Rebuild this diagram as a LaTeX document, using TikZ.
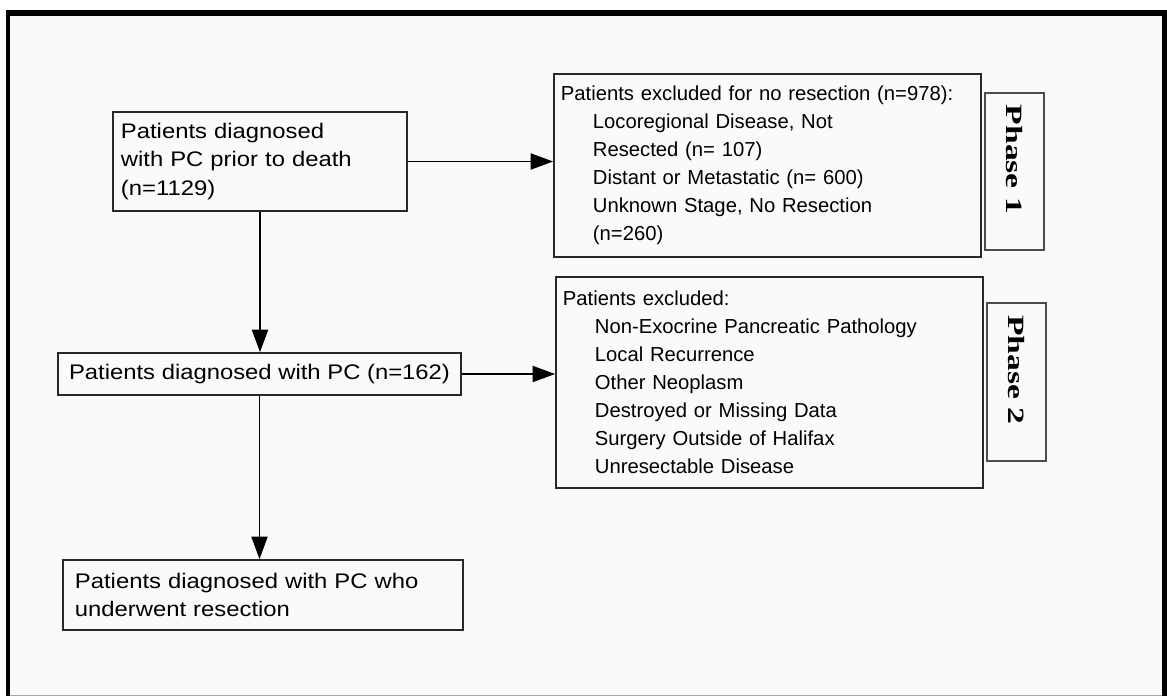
\documentclass[tikz,border=0pt]{standalone}
\usepackage{fontspec}
\setmainfont{Liberation Sans}
\newfontfamily\leftfont[FakeStretch=1.13]{Liberation Sans}
\newfontfamily\phasefont[FakeStretch=1.44]{Liberation Serif}
\usetikzlibrary{arrows.meta, positioning}
\definecolor{panelgray}{RGB}{250,250,250}
\definecolor{edgegray}{RGB}{40,40,40}
\newcommand{\itemind}{\hspace*{0.8cm}}

\begin{document}
\begin{tikzpicture}[x=0.025cm, y=-0.025cm,
  flowbox/.style={draw=edgegray, line width=1.2pt, align=left, inner ysep=0pt},
  leftbox/.style={flowbox, inner xsep=0.2cm, font=\leftfont\fontsize{15}{20.3}\selectfont},
  exclbox/.style={flowbox, inner xsep=0.175cm, font=\fontsize{14.4}{19.9}\selectfont},
  phasebox/.style={draw=black!70, line width=0.9pt, rotate=-90, inner sep=0pt,
    font=\phasefont\bfseries\fontsize{16.6}{20}\selectfont},
  flow/.style={-{Triangle[length=16pt, width=11.5pt]}, line width=1pt}]

\useasboundingbox (0,0) rectangle (1167,696);

% Frame
\fill[white] (0,0) rectangle (1167,696);
\fill[black] (6,10) rectangle (1167,696);
\fill[panelgray] (10,16) rectangle (1162,695);
\fill[gray!70] (10,695) rectangle (1162,696);

% Main column
\node[leftbox, minimum width=7.35cm, minimum height=2.475cm, text width=6.95cm] (prior) at (260,161.5)
  {Patients diagnosed\\with PC prior to death\\(n=1129)};
\node[leftbox, align=center, minimum width=10.075cm, minimum height=1.05cm] (withpc) at (259.5,374)
  {Patients diagnosed with PC (n=162)};
\node[leftbox, inner xsep=0.3cm, minimum width=10cm, minimum height=1.75cm, text width=9.4cm] (resected) at (263,595)
  {Patients diagnosed with PC who\\underwent resection};

% Exclusions
\node[exclbox, minimum width=10.675cm, minimum height=4.575cm, text width=10.325cm] (noresect) at (767.5,165.5)
  {Patients excluded for no resection (n=978):\\
   \itemind Locoregional Disease, Not\\
   \itemind Resected (n= 107)\\
   \itemind Distant or Metastatic (n= 600)\\
   \itemind Unknown Stage, No Resection\\
   \itemind (n=260)};
\node[exclbox, minimum width=10.675cm, minimum height=5.275cm, text width=10.325cm] (excluded) at (769.5,382.5)
  {Patients excluded:\\
   \itemind Non-Exocrine Pancreatic Pathology\\
   \itemind Local Recurrence\\
   \itemind Other Neoplasm\\
   \itemind Destroyed or Missing Data\\
   \itemind Surgery Outside of Halifax\\
   \itemind Unresectable Disease};

% Phase labels
\node[phasebox, minimum width=3.925cm, minimum height=1.475cm] (phaseone) at (1014.5,171.5)
  {Phase 1\hspace*{0.6cm}};
\node[phasebox, minimum width=3.95cm, minimum height=1.475cm] (phasetwo) at (1016.5,382)
  {Phase 2\hspace*{0.6cm}};

% Arrows
\draw[flow] (prior.east) -- (prior.east -| noresect.west);
\draw[flow] (prior.south) -- (prior.south |- withpc.north);
\draw[flow] (withpc.east) -- (withpc.east -| excluded.west);
\draw[flow] (withpc.south) -- (withpc.south |- resected.north);

\end{tikzpicture}
\end{document}
